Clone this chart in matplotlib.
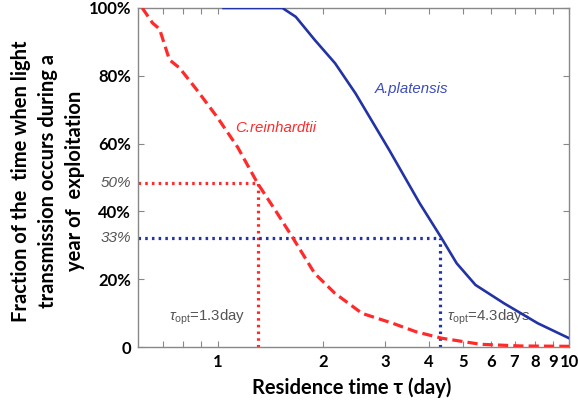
import matplotlib
matplotlib.use("Agg")
import matplotlib.pyplot as plt
import numpy as np

# C.reinhardtii (red dashed) - residence time (day) vs fraction (%)
red_x = [0.611, 0.653, 0.684, 0.730, 0.780, 0.874, 0.998, 1.14, 1.30, 1.48,
         1.64, 1.89, 2.16, 2.58, 3.15, 3.67, 4.34, 5.60, 7.30, 10.0]
red_y = [100, 95.6, 93.8, 84.7, 82.3, 75.8, 67.8, 59.0, 48.3, 39.4,
         32.1, 21.7, 15.8, 9.9, 7.0, 4.5, 2.6, 0.8, 0.3, 0.2]

# A.platensis (blue solid)
blue_x = [1.04, 1.53, 1.67, 1.89, 2.16, 2.47, 3.08, 3.76, 4.34, 4.79,
          5.42, 6.53, 8.15, 10.0]
blue_y = [100, 100, 97.4, 90.6, 83.7, 74.8, 58.1, 42.4, 32.1, 24.7,
          18.3, 12.9, 7.0, 2.6]

# optimum markers
opt_x = [1.30, 4.30]
opt_y = [48.3, 32.1]
opt_labels = ["50%", "33%"]
opt_text = [r"$\tau_{\rm opt}$=1.3day", r"$\tau_{\rm opt}$=4.3days"]
opt_text_x = [0.73, 4.5]

yticks = [0, 20, 40, 60, 80, 100]
ytick_labels = ["0", "20%", "40%", "60%", "80%", "100%"]
xticks = [1, 2, 3, 4, 5, 6, 7, 8, 9, 10]
xminor = [0.7, 0.8, 0.9]

RED = "#ff2a2a"
BLUE = "#2233a6"
GRAY = "#555555"
BOLD_FONT = ["Lato", "DejaVu Sans"]
ARIAL = ["Liberation Sans", "DejaVu Sans"]

plt.rcParams["mathtext.fontset"] = "custom"
plt.rcParams["mathtext.rm"] = "Liberation Sans"
plt.rcParams["mathtext.it"] = "Liberation Sans:italic"

fig = plt.figure(figsize=(5.78, 4.04), dpi=100)
ax = fig.add_axes([138 / 578, 1 - 347 / 404, (569 - 138) / 578, (347 - 8) / 404])

ax.set_xscale("log")
ax.set_xlim(0.594, 10)
ax.set_ylim(0, 100)

ax.plot(red_x, red_y, color=RED, lw=2.3, ls=(0, (3.2, 1.6)), zorder=3)
ax.plot(blue_x, blue_y, color=BLUE, lw=1.9, zorder=3)

cols = [RED, BLUE]
dots = (0, (0.8, 1.3))
for i in range(2):
    ax.plot([0.594, opt_x[i]], [opt_y[i], opt_y[i]], color=cols[i], lw=2.3,
            ls=dots, dash_capstyle="butt", zorder=2)
    ax.plot([opt_x[i], opt_x[i]], [0, opt_y[i]], color=cols[i], lw=2.3,
            ls=dots, dash_capstyle="butt", zorder=2)
    ax.text(-0.015, opt_y[i], opt_labels[i], transform=ax.get_yaxis_transform(),
            ha="right", va="center", fontsize=11, style="italic", color=GRAY,
            family=ARIAL)
    ax.text(opt_text_x[i], 8.8, opt_text[i], ha="left", va="center",
            fontsize=10.8, color=GRAY, family=ARIAL, zorder=1)

ax.text(3.57, 76, "A.platensis", color="#3b4cc0", style="italic",
        fontsize=10.8, ha="center", va="center", family=ARIAL)
ax.text(1.12, 64.5, "C.reinhardtii", color=RED, style="italic",
        fontsize=10.8, ha="left", va="center", family=ARIAL)

ax.set_yticks(yticks)
ax.set_yticklabels(ytick_labels)
ax.set_xticks(xticks)
ax.set_xticklabels([str(t) for t in xticks])
ax.set_xticks(xminor, minor=True)
ax.set_xticklabels([], minor=True)

for lab in ax.get_xticklabels() + ax.get_yticklabels():
    lab.set_fontweight("bold")
    lab.set_family(BOLD_FONT)
    lab.set_fontsize(12)

ax.tick_params(which="both", direction="in", top=True, right=True,
               color="#888888", length=4, width=0.8)
ax.tick_params(axis="x", pad=5)
ax.tick_params(axis="y", pad=5)
for sp in ax.spines.values():
    sp.set_color("#888888")
    sp.set_linewidth(1.0)

fig.text(48 / 578, 1 - 181 / 404,
         "Fraction of the  time when light\ntransmission occurs during a\nyear of  exploitation",
         rotation=90, ha="center", va="center", multialignment="center",
         fontsize=14.5, fontweight="bold", family=BOLD_FONT, linespacing=1.45)
fig.text(352 / 578, 1 - 388 / 404, "Residence time \u03c4 (day)",
         ha="center", va="center", fontsize=14.5, fontweight="bold",
         family=BOLD_FONT)

fig.savefig("out.png", dpi=100)
